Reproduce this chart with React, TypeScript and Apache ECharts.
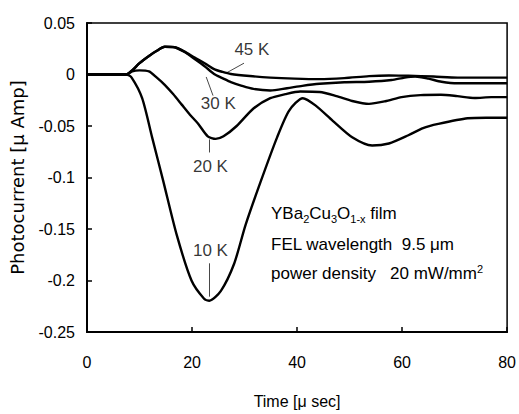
import React, { useEffect, useRef } from "react";
import * as echarts from "echarts";

// Time [μs] and photocurrent [μA]
const t10 = [0, 4, 7.5, 8.5, 10.5, 12.4, 14.5, 17.1, 19.9, 22.3, 23.3, 25.5, 28, 30.2, 33, 36.2, 38.5, 41.1, 43.5, 46.8, 50.5, 54.3, 57.5, 61.2, 64, 66.9, 72.5, 76, 80];
const v10 = [0, 0, 0, -0.003, -0.023, -0.061, -0.103, -0.156, -0.2, -0.2177, -0.2196, -0.21, -0.184, -0.146, -0.105, -0.061, -0.035, -0.023, -0.03, -0.045, -0.061, -0.069, -0.067, -0.059, -0.052, -0.048, -0.0425, -0.042, -0.042];

const t20 = [0, 4, 7.5, 8.6, 10, 11.8, 13.3, 14.8, 16.4, 18, 19.6, 21.2, 23, 24.5, 26, 28.5, 31.7, 34.9, 37.8, 40.6, 44.3, 47.5, 50.5, 53.7, 56.8, 59.9, 63.5, 67.4, 70.5, 73.8, 77, 80];
const v20 = [0, 0, 0, 0.003, 0.004, 0.003, -0.003, -0.01, -0.019, -0.029, -0.039, -0.048, -0.06, -0.0625, -0.06, -0.05, -0.033, -0.023, -0.019, -0.0165, -0.017, -0.021, -0.0257, -0.0285, -0.026, -0.022, -0.02, -0.0197, -0.021, -0.0228, -0.022, -0.022];

const t30 = [0, 4, 7.5, 8.6, 10, 11.8, 13.3, 14.8, 16.7, 18.5, 20.5, 22.4, 24.2, 25.8, 27.4, 29.5, 31.7, 34.9, 38.1, 41, 44.3, 49, 53.7, 58, 60.5, 62.5, 65, 67.5, 70.6, 75, 80];
const v30 = [0, 0, 0, 0.004, 0.011, 0.018, 0.023, 0.027, 0.0265, 0.022, 0.015, 0.008, 0.0005, -0.0035, -0.0074, -0.011, -0.014, -0.0155, -0.0133, -0.011, -0.009, -0.0075, -0.007, -0.0054, -0.003, -0.002, -0.004, -0.007, -0.0085, -0.0085, -0.0085];

const t45 = [0, 4, 7.5, 8.6, 10, 11.8, 13.3, 14.8, 16.7, 18.5, 20.5, 22.4, 24.2, 25.8, 27.4, 31, 34.9, 39.5, 44.3, 49, 53.7, 57.5, 61.2, 66, 70.6, 75, 80];
const v45 = [0, 0, 0, 0.004, 0.011, 0.018, 0.023, 0.027, 0.0265, 0.0225, 0.0164, 0.011, 0.0052, 0.0025, 0.0005, -0.0015, -0.003, -0.004, -0.0045, -0.0035, -0.0016, -0.001, -0.0012, -0.002, -0.003, -0.003, -0.003];

// Annotations (data coordinates)
const annLabels = ["45 K", "30 K", "20 K", "10 K"];
const annLabelPos = [[31.4, 0.0243], [25.0, -0.028], [23.5, -0.089], [23.5, -0.171]];
const annLeaderFrom = [[26.5, 0.0014], [22.7, -0.0024], [23.3, -0.063], [23.3, -0.1833]];
const annLeaderTo = [[29.9, 0.011], [24.0, -0.0205], [23.3, -0.0757], [23.3, -0.2157]];

const FONT = '"Liberation Sans", Arial, sans-serif';

const zip = (t: number[], v: number[]) => t.map((x, i) => [x, v[i]]);

export default function App() {
  const ref = useRef<HTMLDivElement>(null);
  useEffect(() => {
    if (!ref.current) return;
    const chart = echarts.init(ref.current, null, { renderer: "svg" });
    const curve = (name: string, t: number[], v: number[]) => ({
      name,
      type: "line",
      data: zip(t, v),
      smooth: 0.25,
      showSymbol: false,
      symbol: "none",
      lineStyle: { color: "#000", width: 2.4 },
      silent: true,
    });
    chart.setOption({
      animation: false,
      backgroundColor: "#fff",
      grid: {
        left: 84,
        right: 9,
        top: 23,
        bottom: 76,
        show: true,
        borderColor: "#000",
        borderWidth: 1.5,
      },
      xAxis: {
        type: "value",
        min: 0,
        max: 80,
        interval: 20,
        name: "Time [μ sec]",
        nameLocation: "middle",
        nameGap: 61,
        nameTextStyle: { fontFamily: FONT, fontSize: 16, color: "#000" },
        axisLine: { onZero: false, lineStyle: { color: "#000", width: 2 } },
        axisTick: { inside: true, length: 5, lineStyle: { color: "#000", width: 1.5 } },
        axisLabel: { fontFamily: FONT, fontSize: 16, color: "#000", margin: 22 },
        splitLine: { show: false },
      },
      yAxis: {
        type: "value",
        min: -0.25,
        max: 0.05,
        interval: 0.05,
        name: "Photocurrent [μ Amp]",
        nameLocation: "middle",
        nameGap: 61,
        nameTextStyle: { fontFamily: '"DejaVu Sans", sans-serif', fontSize: 18, color: "#000" },
        axisLine: { onZero: false, lineStyle: { color: "#000", width: 2 } },
        axisTick: { inside: true, length: 5, lineStyle: { color: "#000", width: 1.5 } },
        axisLabel: {
          fontFamily: FONT,
          fontSize: 16,
          color: "#000",
          margin: 12,
          formatter: (v: number) => String(+v.toFixed(2)),
        },
        splitLine: { show: false },
      },
      series: [
        curve("10 K", t10, v10),
        curve("20 K", t20, v20),
        curve("30 K", t30, v30),
        curve("45 K", t45, v45),
        {
          type: "lines",
          coordinateSystem: "cartesian2d",
          silent: true,
          polyline: false,
          lineStyle: { color: "#333", width: 0.9, opacity: 1 },
          data: annLeaderFrom.map((f, i) => ({ coords: [f, annLeaderTo[i]] })),
          symbol: "none",
        },
        {
          type: "scatter",
          silent: true,
          symbolSize: 1,
          itemStyle: { color: "transparent" },
          data: annLabelPos.map((p, i) => ({ value: p, name: annLabels[i] })),
          label: {
            show: true,
            position: "inside",
            formatter: (p: any) => p.name,
            fontFamily: FONT,
            fontSize: 17,
            color: "#000",
          },
        },
      ],
      graphic: [
        {
          type: "text",
          left: 271,
          top: 205,
          style: {
            text: "YBa{sub|2}Cu{sub|3}O{sub|1-x} film",
            font: `17px ${FONT}`,
            fill: "#000",
            rich: {
              sub: { fontSize: 11, fontFamily: FONT, fill: "#000", padding: [10, 0, 0, 0] },
            },
          },
        },
        {
          type: "text",
          left: 271,
          top: 236,
          style: {
            text: "FEL wavelength  9.5 μm",
            font: `17px ${FONT}`,
            fill: "#000",
          },
        },
        {
          type: "text",
          left: 271,
          top: 263,
          style: {
            text: "power density   20 mW/mm{sup|2}",
            font: `17px ${FONT}`,
            fill: "#000",
            rich: {
              sup: { fontSize: 11, fontFamily: FONT, fill: "#000", padding: [0, 0, 10, 0] },
            },
          },
        },
      ],
    });
    return () => chart.dispose();
  }, []);
  return (
    <div
      ref={ref}
      style={{ position: "fixed", left: 0, top: 0, width: 519, height: 414, background: "#fff" }}
    />
  );
}
